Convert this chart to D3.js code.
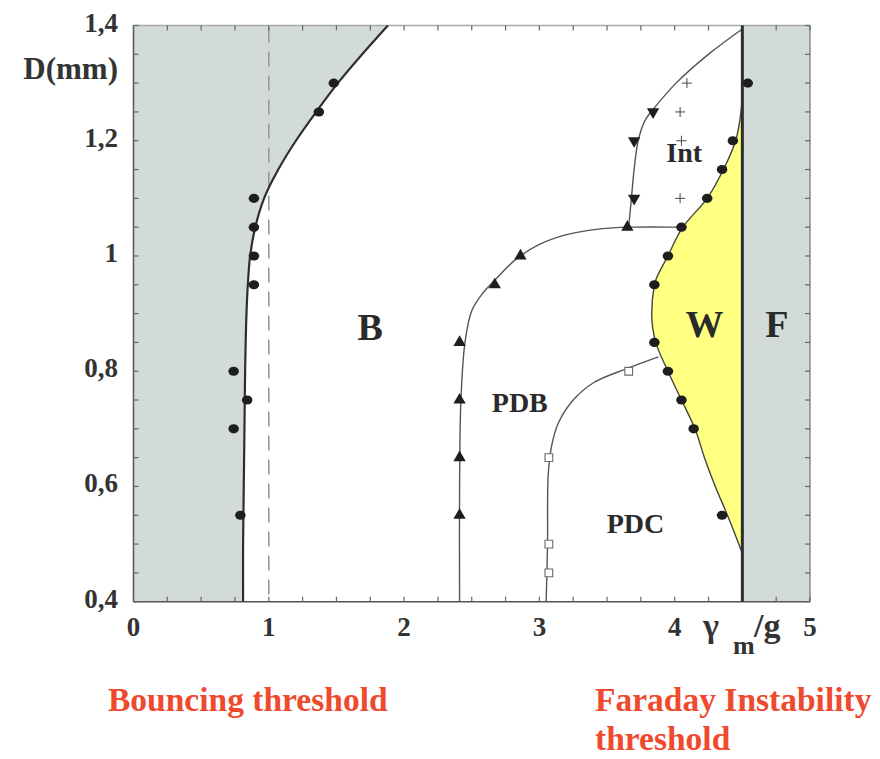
<!DOCTYPE html>
<html>
<head>
<meta charset="utf-8">
<script src="https://cdn.jsdelivr.net/npm/d3@7"></script>
<style>
  html, body { margin: 0; padding: 0; background: #fff; }
  svg { display: block; }
  text { font-family: "Liberation Serif", "Times New Roman", serif; font-weight: bold; }
</style>
</head>
<body>
<svg id="chart" width="880" height="759"></svg>
<script>
// Phase diagram of a bouncing droplet: drop diameter D vs reduced forcing γm/g

// Threshold curves, [γm/g, D(mm)]
const bouncingCurve = [[0.81,0.40],[0.81,0.50],[0.815,0.60],[0.82,0.70],[0.825,0.80],[0.835,0.90],[0.845,0.95],[0.862,1.00],[0.90,1.05],[0.965,1.10],[1.07,1.15],[1.20,1.20],[1.35,1.25],[1.51,1.30],[1.69,1.35],[1.88,1.40]];
const pdbCurve = [[2.41,0.40],[2.41,0.60],[2.42,0.75],[2.45,0.85],[2.50,0.905],[2.58,0.935],[2.67,0.958],[2.83,0.995],[3.0,1.02],[3.2,1.037],[3.45,1.047],[3.66,1.05],[4.05,1.05]];
const intCurve = [[3.66,1.05],[3.68,1.10],[3.70,1.15],[3.73,1.20],[3.78,1.235],[3.86,1.26],[4.01,1.30],[4.26,1.352],[4.5,1.394]];
const pdcCurve = [[3.05,0.40],[3.06,0.50],[3.065,0.62],[3.09,0.67],[3.14,0.71],[3.25,0.75],[3.40,0.78],[3.65,0.805],[3.88,0.825]];
const walkCurve = [[4.50,0.484],[4.39,0.55],[4.30,0.60],[4.22,0.65],[4.15,0.70],[4.05,0.75],[3.95,0.80],[3.86,0.85],[3.83,0.90],[3.85,0.95],[3.95,1.00],[4.06,1.05],[4.24,1.10],[4.36,1.15],[4.45,1.20],[4.49,1.25],[4.50,1.28]];

const bouncingThreshold = 1.0;   // γm/g = 1 dashed line
const faradayThreshold = 4.5;

// Measured points
const bouncePts = [[0.89,1.10],[0.89,1.05],[0.89,1.00],[0.89,0.95],[0.74,0.80],[0.84,0.75],[0.74,0.70],[0.79,0.55],[1.37,1.25],[1.48,1.30]];
const walkPts = [[3.85,0.95],[3.95,1.00],[4.05,1.05],[4.24,1.10],[4.35,1.15],[4.43,1.20],[4.54,1.30],[3.85,0.85],[3.95,0.80],[4.05,0.75],[4.14,0.70],[4.35,0.55]];
const pdbPts = [[2.41,0.55],[2.41,0.65],[2.41,0.75],[2.41,0.85],[2.67,0.95],[2.86,1.00],[3.65,1.05]];
const intTriPts = [[3.84,1.25],[3.70,1.20],[3.70,1.10]];
const intPlusPts = [[4.09,1.30],[4.04,1.25],[4.05,1.20],[4.04,1.10]];
const pdcPts = [[3.07,0.65],[3.07,0.50],[3.07,0.45],[3.66,0.80]];

// Region names
const regionLabels = [
  {text:"B", x:1.75, d:0.877, size:38},
  {text:"W", x:4.22, d:0.882, size:38},
  {text:"F", x:4.755, d:0.882, size:38},
  {text:"PDB", x:2.855, d:0.746, size:28},
  {text:"PDC", x:3.71, d:0.536, size:28},
  {text:"Int", x:4.07, d:1.180, size:28}
];

// Axis ticks
const xTickValues = [0,1,2,3,4,5];
const xTickLabels = ["0","1","2","3","4","5"];
const yTickValues = [1.4,1.2,1.0,0.8,0.6,0.4];
const yTickLabels = ["1,4","1,2","1","0,8","0,6","0,4"];

const svg = d3.select("#chart");
const x = d3.scaleLinear().domain([0,5]).range([133.5, 810]);
const y = d3.scaleLinear().domain([0.4,1.4]).range([601.7, 25.5]);
const [x0, x1] = x.range();
const [yb, yt] = y.range();

const grey = "#d3dbd9";

// Non-bouncing region (left of the bouncing threshold)
const bouncePathGen = d3.line().x(d=>x(d[0])).y(d=>y(d[1])).curve(d3.curveCatmullRom.alpha(0.5));
svg.append("path")
  .attr("d", bouncePathGen(bouncingCurve) + `L${x(0)},${y(1.4)}L${x(0)},${y(0.4)}Z`)
  .attr("fill", grey);

// Faraday unstable region
svg.append("rect")
  .attr("x", x(faradayThreshold)).attr("y", yt)
  .attr("width", x(5) - x(faradayThreshold)).attr("height", yb - yt)
  .attr("fill", grey);

// Walking region
const walkGen = d3.line().x(d=>x(d[0])).y(d=>y(d[1])).curve(d3.curveMonotoneY);
svg.append("path")
  .attr("d", walkGen(walkCurve) + "Z")
  .attr("fill", "#ffff82");

// Dashed γm/g = 1 line
svg.append("line")
  .attr("x1", x(bouncingThreshold)).attr("x2", x(bouncingThreshold))
  .attr("y1", yt + 2).attr("y2", yb)
  .attr("stroke", "#9a9a9a").attr("stroke-width", 1.6)
  .attr("stroke-dasharray", "15,9");

// Frame
svg.append("line").attr("x1", x0).attr("x2", x1).attr("y1", yt).attr("y2", yt)
  .attr("stroke", "#a8a8a8").attr("stroke-width", 1.5);
svg.append("line").attr("x1", x1).attr("x2", x1).attr("y1", yt).attr("y2", yb)
  .attr("stroke", "#8a8a8a").attr("stroke-width", 1.5);
svg.append("line").attr("x1", x0).attr("x2", x0).attr("y1", yt).attr("y2", yb)
  .attr("stroke", "#555").attr("stroke-width", 1.5);
svg.append("line").attr("x1", x0).attr("x2", x1).attr("y1", yb).attr("y2", yb)
  .attr("stroke", "#555").attr("stroke-width", 1.5);

// Inward ticks on all four sides
const xMinor = d3.range(0, 5.001, 0.25);
const yMinor = d3.range(0.4, 1.4001, 0.05);
const ticks = svg.append("g").attr("stroke", "#666").attr("stroke-width", 1.2);
xMinor.forEach(v => {
  ticks.append("line").attr("x1", x(v)).attr("x2", x(v)).attr("y1", yb).attr("y2", yb - 5);
  ticks.append("line").attr("x1", x(v)).attr("x2", x(v)).attr("y1", yt).attr("y2", yt + 5);
});
yMinor.forEach(v => {
  ticks.append("line").attr("x1", x0).attr("x2", x0 + 5).attr("y1", y(v)).attr("y2", y(v));
  ticks.append("line").attr("x1", x1).attr("x2", x1 - 5).attr("y1", y(v)).attr("y2", y(v));
});

// Threshold curves
const lineGen = d3.line().x(d=>x(d[0])).y(d=>y(d[1])).curve(d3.curveCatmullRom.alpha(0.5));
svg.append("path").attr("d", bouncePathGen(bouncingCurve))
  .attr("fill", "none").attr("stroke", "#2e2e2e").attr("stroke-width", 2.2);
[pdbCurve, intCurve, pdcCurve].forEach(c => {
  svg.append("path").attr("d", lineGen(c))
    .attr("fill", "none").attr("stroke", "#555").attr("stroke-width", 1.4);
});
svg.append("path").attr("d", walkGen(walkCurve))
  .attr("fill", "none").attr("stroke", "#444").attr("stroke-width", 1.4);

// Faraday threshold
svg.append("line")
  .attr("x1", x(faradayThreshold)).attr("x2", x(faradayThreshold))
  .attr("y1", yt).attr("y2", yb)
  .attr("stroke", "#2e2e2e").attr("stroke-width", 3);

// Markers
const circ = d3.symbol().type(d3.symbolCircle).size(72);
svg.append("g").selectAll("path").data(bouncePts.concat(walkPts)).join("path")
  .attr("d", circ).attr("transform", d => `translate(${x(d[0])},${y(d[1])}) scale(1.1,0.95)`)
  .attr("fill", "#1e1e1e");

const tri = d3.symbol().type(d3.symbolTriangle).size(66);
svg.append("g").selectAll("path").data(pdbPts).join("path")
  .attr("d", tri).attr("transform", d => `translate(${x(d[0])},${y(d[1])})`)
  .attr("fill", "#1e1e1e");
svg.append("g").selectAll("path").data(intTriPts).join("path")
  .attr("d", tri).attr("transform", d => `translate(${x(d[0])},${y(d[1])}) rotate(180)`)
  .attr("fill", "#1e1e1e");

const sq = d3.symbol().type(d3.symbolSquare).size(60);
svg.append("g").selectAll("path").data(pdcPts).join("path")
  .attr("d", sq).attr("transform", d => `translate(${x(d[0])},${y(d[1])})`)
  .attr("fill", "#fff").attr("stroke", "#6a6a6a").attr("stroke-width", 1.1);

const plusG = svg.append("g").attr("stroke", "#555").attr("stroke-width", 1.1);
intPlusPts.forEach(d => {
  const cx = x(d[0]), cy = y(d[1]);
  plusG.append("line").attr("x1", cx - 5).attr("x2", cx + 5).attr("y1", cy).attr("y2", cy);
  plusG.append("line").attr("x1", cx).attr("x2", cx).attr("y1", cy - 5).attr("y2", cy + 5);
});

// Region labels
svg.append("g").selectAll("text").data(regionLabels).join("text")
  .attr("x", d => x(d.x)).attr("y", d => y(d.d))
  .attr("text-anchor", "middle").attr("dominant-baseline", "central")
  .attr("font-size", d => d.size).attr("fill", "#2a2a2a")
  .text(d => d.text);

// Tick labels
svg.append("g").selectAll("text").data(yTickValues).join("text")
  .attr("x", 118).attr("y", d => y(d) + 6)
  .attr("text-anchor", "end").attr("font-size", 27).attr("fill", "#333")
  .text((d,i) => yTickLabels[i]);
svg.append("g").selectAll("text").data(xTickValues).join("text")
  .attr("x", d => x(d)).attr("y", 636)
  .attr("text-anchor", "middle").attr("font-size", 27).attr("fill", "#333")
  .text((d,i) => xTickLabels[i]);

// Axis titles
svg.append("text").attr("x", 118).attr("y", 79).attr("text-anchor", "end")
  .attr("font-size", 31).attr("fill", "#333").text("D(mm)");
svg.append("text").attr("x", 703).attr("y", 637).attr("font-size", 34).attr("fill", "#333").text("γ");
svg.append("text").attr("x", 733).attr("y", 654).attr("font-size", 26).attr("fill", "#333").text("m");
svg.append("text").attr("x", 754).attr("y", 637).attr("font-size", 34).attr("fill", "#333").text("/g");

// Threshold captions
const red = "#ef4a2e";
svg.append("text").attr("x", 108).attr("y", 711).attr("font-size", 33.5).attr("fill", red)
  .text("Bouncing threshold");
svg.append("text").attr("x", 595).attr("y", 711).attr("font-size", 33.5).attr("fill", red)
  .text("Faraday Instability");
svg.append("text").attr("x", 595).attr("y", 750).attr("font-size", 33.5).attr("fill", red)
  .text("threshold");
</script>
</body>
</html>
